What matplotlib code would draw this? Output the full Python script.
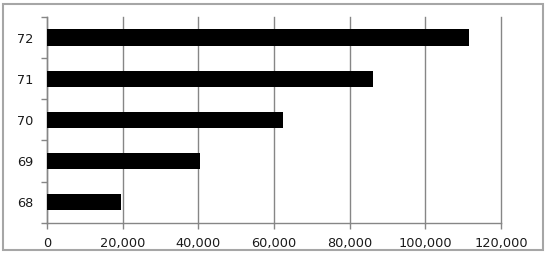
import matplotlib.pyplot as plt
from matplotlib.patches import Rectangle

categories = ["68", "69", "70", "71", "72"]
values = [19500, 40300, 62500, 86100, 111400]
xticks = [0, 20000, 40000, 60000, 80000, 100000, 120000]

fig = plt.figure(figsize=(5.5, 2.6), dpi=100)
ax = fig.add_axes([0.0855, 0.1435, 0.8255, 0.791])

# outer chart border
fig.patches.append(Rectangle((0.005, 0.037), 0.982, 0.946, transform=fig.transFigure,
                             fill=False, edgecolor="#a6a6a6", linewidth=1.5))

ypos = list(range(len(categories)))
ax.barh(ypos, values, height=0.4, color="black", zorder=3)

ax.set_xlim(0, 120000)
ax.set_ylim(-0.5, len(categories) - 0.5)
ax.set_xticks(xticks)
ax.set_xticklabels(["{:,}".format(v) for v in xticks])
ax.xaxis.grid(True, color="#868686", linewidth=1, zorder=0)
for gl in ax.get_xgridlines():
    gl.set_clip_on(False)

ax.set_yticks(ypos)
ax.set_yticklabels(categories)
ax.set_yticks([i - 0.5 for i in range(len(categories) + 1)], minor=True)
ax.tick_params(axis="y", which="major", length=0, pad=10)
ax.tick_params(axis="y", which="minor", length=4, color="#868686", width=1)
ax.tick_params(axis="x", length=4, color="#868686", width=1, pad=6)
ax.tick_params(labelsize=9.3, labelcolor="#1a1a1a")

for s in ["top", "right"]:
    ax.spines[s].set_visible(False)
for s in ["left", "bottom"]:
    ax.spines[s].set_color("#868686")
    ax.spines[s].set_linewidth(1)

fig.savefig("out.png", dpi=100)
